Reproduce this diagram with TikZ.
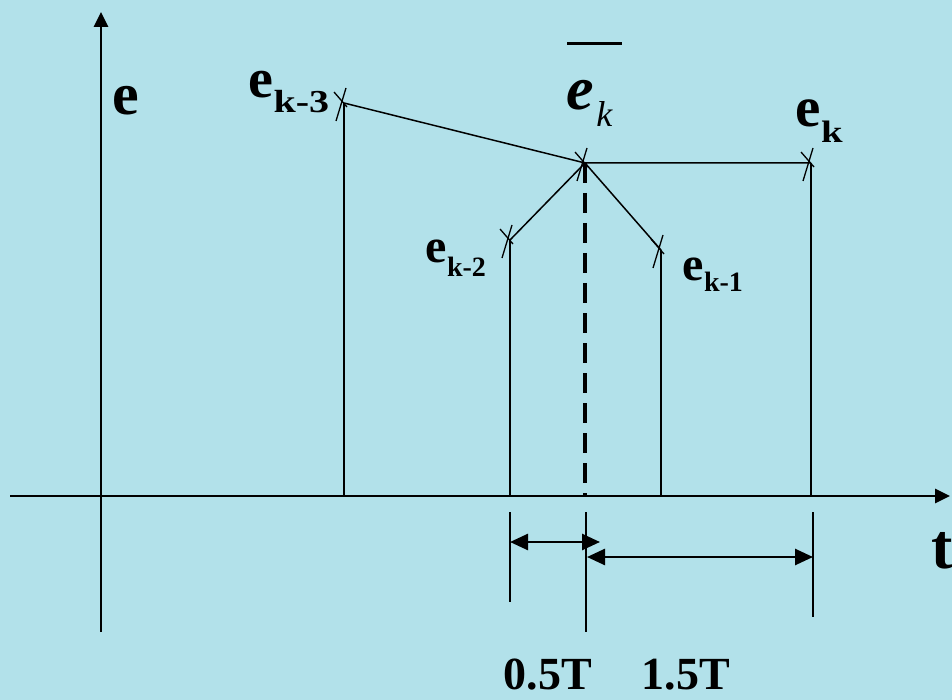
\documentclass[tikz,border=0pt]{standalone}
\usepackage{fontspec}
\setmainfont{Liberation Serif}
\usetikzlibrary{arrows.meta}
\definecolor{bg}{RGB}{178,225,234}
\newcommand{\fs}[1]{\fontsize{#1}{#1}\selectfont}
\begin{document}
\begin{tikzpicture}[x=1pt,y=-1pt,line width=1.5pt,
  axis/.style={line width=2.6pt,-{Triangle[length=15pt,width=14pt]}},
  tickmark/.style={line width=1.3pt},
  dimline/.style={line width=2.6pt,{Triangle[length=18pt,width=16pt]}-{Triangle[length=18pt,width=16pt]}},
  lbl/.style={inner sep=0pt,anchor=base west,font=\bfseries}]
\fill[bg] (0,0) rectangle (952,700);
\useasboundingbox (0,0) rectangle (952,700);
% axes
\coordinate (ybot) at (101,632); \coordinate (ytop) at (101,12);
\coordinate (xl) at (10,496); \coordinate (xr) at (950,496);
\draw[axis] (ybot) -- (ytop);
\draw[axis] (xl) -- (xr);
% sample points
\coordinate (p3) at (344,103);
\coordinate (pb) at (585,163);
\coordinate (pk) at (811,163);
\coordinate (p2) at (510,240);
\coordinate (p1) at (661,250);
\coordinate (f3) at (344,496);
\coordinate (fb) at (585,496);
\coordinate (fk) at (811,496);
\coordinate (f2) at (510,496);
\coordinate (f1) at (661,496);
\draw (p3) -- (pb) -- (pk);
\draw (p2) -- (pb) -- (p1);
\draw (p3) -- (f3);
\draw (pk) -- (fk);
\draw (p2) -- (f2);
\draw (p1) -- (f1);
\draw[line width=4pt,dash pattern=on 20pt off 10pt] (pb) -- (fb);
% tick marks
\foreach \p in {p3,pb,pk,p2,p1}{
  \draw[tickmark,shift={(\p)}] (2,-15) -- (-8,18);
  \draw[tickmark,shift={(\p)}] (-10,-11) -- (3,4);
}
% dimension lines
\coordinate (e1t) at (510,512); \coordinate (e1b) at (510,602);
\coordinate (e2t) at (586,512); \coordinate (e2b) at (586,632);
\coordinate (e3t) at (813,512); \coordinate (e3b) at (813,617);
\draw (e1t) -- (e1b);
\draw (e2t) -- (e2b);
\draw (e3t) -- (e3b);
\coordinate (a1l) at (510,542); \coordinate (a1r) at (600,542);
\coordinate (a2l) at (587,557); \coordinate (a2r) at (813,557);
\draw[dimline] (a1l) -- (a1r);
\draw[dimline] (a2l) -- (a2r);
% bar over e_k
\coordinate (bar1) at (567,44); \coordinate (bar2) at (622,44);
\draw[line width=3pt] (bar1) -- (bar2);
% labels
\node[lbl] (elab) at (112,115) {\fs{60}e};
\node[lbl] (ek3) at (248,98) {\fs{56}e\raisebox{-15pt}{\scalebox{1.25}[1]{\fs{32}k-3}}};
\node[lbl] (ekr) at (795,127) {\fs{57}e\raisebox{-16pt}{\scalebox{1.25}[1]{\fs{31}k}}};
\node[lbl] (ek2) at (425,263) {\fs{48}e\raisebox{-14pt}{\fs{28}k-2}};
\node[lbl] (ek1) at (682,280) {\fs{48}e\raisebox{-12pt}{\fs{28}k-1}};
\node[inner sep=0pt,anchor=base west] (ebar) at (566,110) {\fs{62}\bfseries\itshape e\hspace{2pt}\raisebox{-17pt}{\fs{36}\mdseries\itshape k}};
\node[lbl] (tlab) at (931,568) {\fs{64}t};
\node[lbl] (l05) at (503,689) {\fs{46}0.5T};
\node[lbl] (l15) at (641,689) {\fs{46}1.5T};
\end{tikzpicture}
\end{document}
